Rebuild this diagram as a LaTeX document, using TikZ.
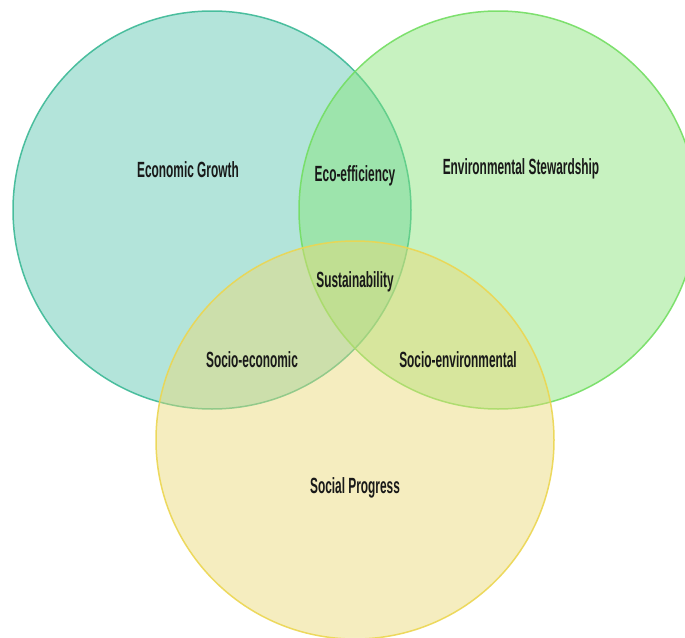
\documentclass[tikz,border=0pt]{standalone}
\usepackage{fontspec}
\setmainfont{Liberation Sans}[FakeStretch=0.54]
\definecolor{tealfill}{RGB}{88,197,173}
\definecolor{greenfill}{RGB}{131,228,117}
\definecolor{yellowfill}{RGB}{235,217,115}
\definecolor{tealline}{RGB}{60,185,150}
\definecolor{greenline}{RGB}{115,222,98}
\definecolor{yellowline}{RGB}{236,214,80}
\tikzset{
  setc/.style={line width=1.5pt, fill opacity=0.45, draw opacity=0.9},
  lbl/.style={font=\bfseries\fontsize{22}{24}\selectfont, text=black!90, inner sep=0pt}
}
\begin{document}
\begin{tikzpicture}[x=1pt,y=-1pt]
\useasboundingbox (0,0) rectangle (685,637);
\clip (0,0) rectangle (685,637);
\fill[white] (0,0) rectangle (685,637);
\draw[setc, draw=tealline, fill=tealfill] (212,210) circle[radius=199];
\draw[setc, draw=greenline, fill=greenfill] (498,210) circle[radius=199];
\draw[setc, draw=yellowline, fill=yellowfill] (355,440) circle[radius=199];
\node[lbl] (eg) at (188,170) {Economic Growth};
\node[lbl] (ee) at (355,176) {Eco-efficiency};
\node[lbl] (es) at (521,169) {Environmental Stewardship};
\node[lbl] (su) at (355,282) {Sustainability};
\node[lbl] (se) at (252,360) {Socio-economic};
\node[lbl] (sv) at (458,360) {Socio-environmental};
\node[lbl] (sp) at (355,488) {Social Progress};
\end{tikzpicture}
\end{document}
